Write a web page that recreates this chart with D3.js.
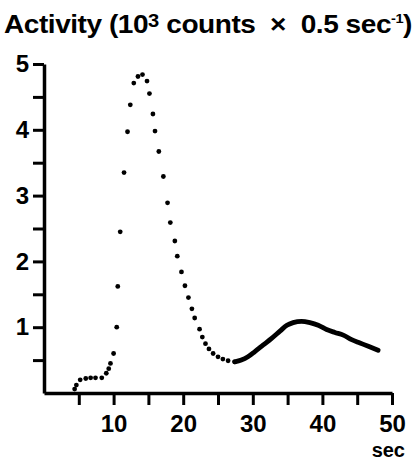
<!DOCTYPE html>
<html>
<head>
<meta charset="utf-8">
<script src="https://cdn.jsdelivr.net/npm/d3@7"></script>
<style>
  body { margin: 0; background: #fff; }
  svg { display: block; font-family: "Liberation Sans", Arial, Helvetica, sans-serif; font-weight: bold; }
</style>
</head>
<body>
<div class="chart"></div>
<script>
// activity: separate dots while the curve is steep
const DOT_TIME = [4.4, 4.65, 5.2, 6.0, 6.7, 7.4, 8.3, 8.95, 9.3, 9.55, 10.0, 10.45, 10.6, 10.95,
                  11.5, 12.0, 12.4, 12.9, 13.5, 14.15, 14.8, 15.15, 15.65, 15.95, 16.5, 17.15,
                  17.75, 18.15, 18.8, 19.15, 19.75, 20.25, 20.75, 21.25, 21.65, 22.35, 22.75,
                  23.2, 23.7, 24.3, 25.0, 25.7, 26.45, 27.4];
const DOT_ACTIVITY = [0.06, 0.12, 0.2, 0.22, 0.23, 0.23, 0.23, 0.3, 0.37, 0.45, 0.6, 1.0, 1.62, 2.45,
                      3.35, 3.97, 4.38, 4.71, 4.81, 4.84, 4.74, 4.55, 4.24, 3.98, 3.67, 3.29,
                      2.89, 2.59, 2.31, 2.08, 1.84, 1.63, 1.45, 1.28, 1.14, 0.97, 0.85,
                      0.75, 0.67, 0.6, 0.55, 0.515, 0.49, 0.474];

// tail where the dots run together into a solid trace
const TAIL_TIME = [27.4, 28.35, 29.3, 30.3, 31.5, 32.7, 33.9, 34.9, 35.8, 37.0, 38.2, 39.4,
                   40.6, 41.8, 43.0, 44.2, 45.4, 46.6, 48.0];
const TAIL_ACTIVITY = [0.474, 0.5, 0.55, 0.63, 0.73, 0.83, 0.94, 1.03, 1.07, 1.09, 1.07, 1.03,
                       0.965, 0.92, 0.88, 0.81, 0.76, 0.71, 0.65];

const X_TICKS = [5, 10, 15, 20, 25, 30, 35, 40, 45, 50];
const Y_TICKS = [0.5, 1, 1.5, 2, 2.5, 3, 3.5, 4, 4.5, 5];

const FRAME_WIDTH = 417;
const FRAME_HEIGHT = 461;

const FRAME = d3.select(".chart")
                .append("svg")
                .attr("width", FRAME_WIDTH)
                .attr("height", FRAME_HEIGHT);

const X_SCALE = d3.scaleLinear().domain([0, 50]).range([44, 392]);
const Y_SCALE = d3.scaleLinear().domain([0, 5]).range([393, 64]);

// title with superscripts, stretched to the reference's width
const TITLE = FRAME.append("text")
                   .attr("x", 4)
                   .attr("y", 33)
                   .attr("font-size", "25px")
                   .attr("letter-spacing", "-0.4px")
                   .attr("xml:space", "preserve")
                   .style("white-space", "pre");
TITLE.append("tspan").text("Activity (10");
TITLE.append("tspan").attr("font-size", "18px").attr("dy", -6).text("3");
TITLE.append("tspan").attr("dy", 6).text(" counts  \u00d7  0.5 sec");
TITLE.append("tspan").attr("font-size", "13px").attr("dy", -10).text("-1");
TITLE.append("tspan").attr("dy", 10).text(")");

const TITLE_W = TITLE.node().getComputedTextLength();
if (TITLE_W > 0) {
    TITLE.attr("textLength", 408).attr("lengthAdjust", "spacingAndGlyphs");
}

// axes
FRAME.append("g")
    .attr("transform", "translate(" + X_SCALE(0) + ",0)")
    .call(d3.axisLeft(Y_SCALE)
            .tickValues(Y_TICKS)
            .tickSize(11)
            .tickSizeOuter(0)
            .tickPadding(4)
            .tickFormat((d) => Number.isInteger(d) ? d : ""));

FRAME.append("g")
    .attr("transform", "translate(0," + Y_SCALE(0) + ")")
    .call(d3.axisBottom(X_SCALE)
            .tickValues(X_TICKS)
            .tickSize(12)
            .tickSizeOuter(0)
            .tickPadding(10)
            .tickFormat((d) => d % 10 === 0 ? d : ""));

FRAME.selectAll(".domain").attr("stroke", "#000").attr("stroke-width", 3.5);
FRAME.selectAll(".tick line").attr("stroke", "#000").attr("stroke-width", 3);
FRAME.selectAll(".tick text")
     .attr("fill", "#000")
     .attr("font-size", "24px")
     .attr("font-family", "Liberation Sans, Arial, sans-serif")
     .attr("font-weight", "bold");

FRAME.append("text")
     .attr("x", 405)
     .attr("y", 457)
     .attr("text-anchor", "end")
     .attr("font-size", "20px")
     .text("sec");

// solid tail trace
const TAIL = TAIL_TIME.map((t, i) => ({t: t, v: TAIL_ACTIVITY[i]}));
FRAME.append("path")
     .datum(TAIL)
     .attr("fill", "none")
     .attr("stroke", "#000")
     .attr("stroke-width", 4.8)
     .attr("stroke-linecap", "round")
     .attr("stroke-linejoin", "round")
     .attr("d", d3.line()
                  .x((d) => X_SCALE(d.t))
                  .y((d) => Y_SCALE(d.v))
                  .curve(d3.curveMonotoneX));

// dots
const DOTS = DOT_TIME.map((t, i) => ({t: t, v: DOT_ACTIVITY[i]}));
FRAME.selectAll("circle")
     .data(DOTS)
     .enter()
     .append("circle")
       .attr("cx", (d) => X_SCALE(d.t))
       .attr("cy", (d) => Y_SCALE(d.v))
       .attr("r", 2.4)
       .attr("fill", "#000");
</script>
</body>
</html>
